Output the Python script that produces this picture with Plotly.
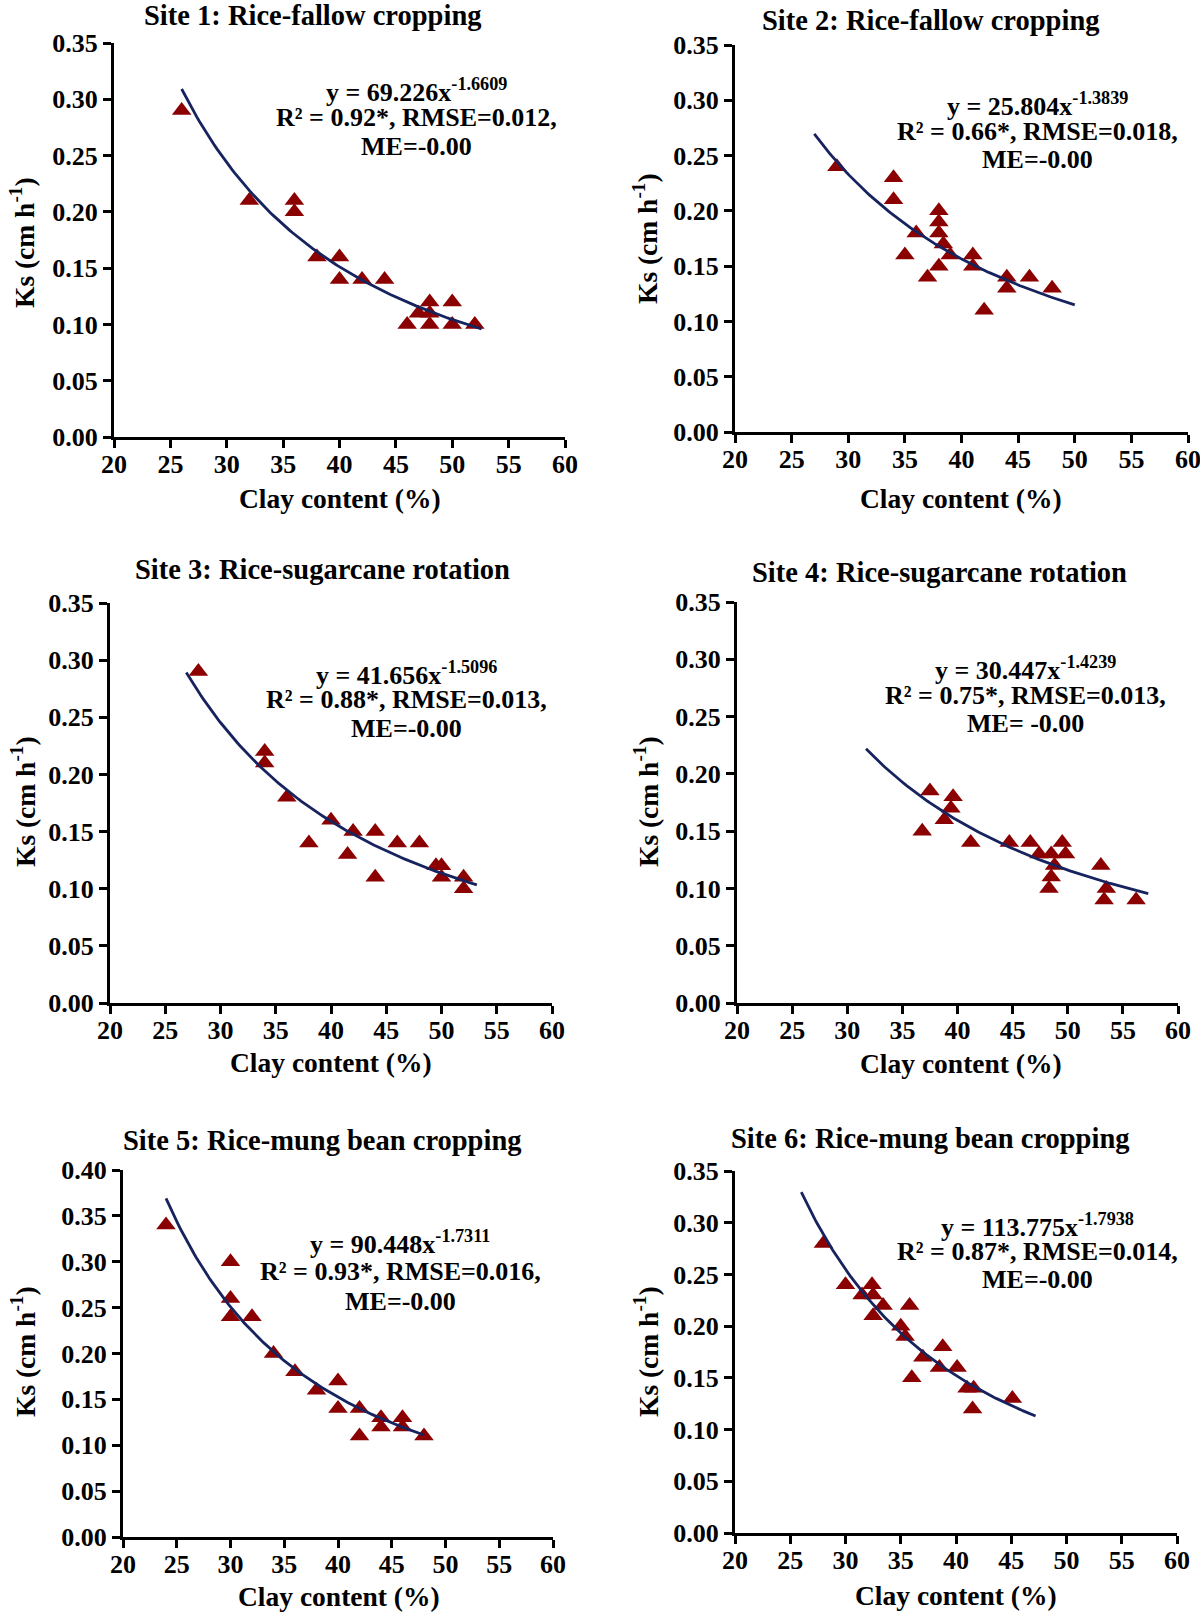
import plotly.graph_objects as go
import numpy as np

# ---------------- data ----------------
site_titles = [
    "Site 1: Rice-fallow cropping",
    "Site 2: Rice-fallow cropping",
    "Site 3: Rice-sugarcane rotation",
    "Site 4: Rice-sugarcane rotation",
    "Site 5: Rice-mung bean cropping",
    "Site 6: Rice-mung bean cropping",
]

site1_clay = [26, 32, 36, 36, 38, 40, 40, 42, 44, 46, 47, 48, 48, 48, 50, 50, 52]
site1_ks = [0.29, 0.21, 0.21, 0.20, 0.16, 0.16, 0.14, 0.14, 0.14, 0.10, 0.11, 0.12, 0.11, 0.10, 0.12, 0.10, 0.10]

site2_clay = [29, 34, 34, 35, 36, 37, 38, 38, 38, 38.4, 38, 39, 41, 41, 42, 44, 44, 46, 48]
site2_ks = [0.24, 0.23, 0.21, 0.16, 0.18, 0.14, 0.20, 0.19, 0.18, 0.17, 0.15, 0.16, 0.16, 0.15, 0.11, 0.14, 0.13, 0.14, 0.13]

site3_clay = [28, 34, 34, 36, 38, 40, 41.5, 42, 44, 44, 46, 48, 49.5, 50, 50, 52, 52]
site3_ks = [0.29, 0.22, 0.21, 0.18, 0.14, 0.16, 0.13, 0.15, 0.15, 0.11, 0.14, 0.14, 0.12, 0.12, 0.11, 0.11, 0.10]

site4_clay = [36.8, 37.5, 38.8, 39.4, 39.6, 41.2, 44.7, 46.6, 47.4, 48.5, 48.8, 48.5, 48.3, 49.5, 49.8, 53.0, 53.5, 53.3, 56.2]
site4_ks = [0.15, 0.185, 0.16, 0.17, 0.18, 0.14, 0.14, 0.14, 0.13, 0.13, 0.12, 0.11, 0.10, 0.14, 0.13, 0.12, 0.10, 0.09, 0.09]

site5_clay = [24, 30, 30, 30, 32, 34, 36, 38, 40, 40, 42, 42, 44, 44, 46, 46, 48]
site5_ks = [0.34, 0.30, 0.26, 0.24, 0.24, 0.20, 0.18, 0.16, 0.17, 0.14, 0.14, 0.11, 0.13, 0.12, 0.13, 0.12, 0.11]

site6_clay = [28, 30, 31.5, 32.4, 32.5, 32.5, 33.4, 35, 35.4, 35.8, 36, 37, 38.8, 38.5, 40.1, 41, 41.6, 41.5, 45.1]
site6_ks = [0.28, 0.24, 0.23, 0.24, 0.23, 0.21, 0.22, 0.20, 0.19, 0.22, 0.15, 0.17, 0.18, 0.16, 0.16, 0.14, 0.14, 0.12, 0.13]

# power-law trend lines shown on the chart: y = a * x^b
trend_a = [69.226, 25.804, 41.656, 30.447, 90.448, 113.775]
trend_b = [-1.6609, -1.3839, -1.5096, -1.4239, -1.7311, -1.7938]
trend_xmin = [26, 27, 26.9, 31.7, 24, 26]
trend_xmax = [52.6, 50, 53.2, 57.3, 48, 47.2]

r2_labels = ["0.92*", "0.66*", "0.88*", "0.75*", "0.93*", "0.87*"]
rmse_labels = ["0.012", "0.018", "0.013", "0.013", "0.016", "0.014"]
me_labels = ["ME=-0.00", "ME=-0.00", "ME=-0.00", "ME= -0.00", "ME=-0.00", "ME=-0.00"]
a_labels = ["69.226", "25.804", "41.656", "30.447", "90.448", "113.775"]
b_labels = ["-1.6609", "-1.3839", "-1.5096", "-1.4239", "-1.7311", "-1.7938"]

y_max = [0.35, 0.35, 0.35, 0.35, 0.40, 0.35]
x_ticks = [20, 25, 30, 35, 40, 45, 50, 55, 60]

clay_sets = [site1_clay, site2_clay, site3_clay, site4_clay, site5_clay, site6_clay]
ks_sets = [site1_ks, site2_ks, site3_ks, site4_ks, site5_ks, site6_ks]

# ---------------- layout geometry (page pixels) ----------------
W, H = 1200, 1613
boxes = [(114, 565, 43, 437), (735, 1188, 45, 432), (110, 552, 603, 1003),
         (737, 1178, 602, 1003), (123, 553, 1170, 1537), (735, 1177, 1171, 1533)]
title_pos = [(312, 16), (930, 21), (322, 570), (939, 573), (322, 1140), (930, 1138)]
eq_x = [416, 1037, 406, 1025, 400, 1037]
eq_lines_y = [(89, 118, 147), (103, 132, 160), (671, 699, 728),
              (666, 695, 723), (1240, 1271, 1301), (1223, 1251, 1279)]
xt_pos = [(340, 499), (961, 499), (331, 1062), (961, 1063), (339, 1596), (956, 1595)]
yt_pos = [(23, 243), (646, 239), (23, 802), (646, 802), (23, 1352), (646, 1352)]

FONT = "Liberation Serif"
MARKER_COLOR = "#8B0000"
LINE_COLOR = "#16235E"


def px_x(v):
    return v / W


def px_y(v):
    return 1 - v / H


def bfont(size):
    return dict(family=FONT, size=size, color="black", weight="bold")


fig = go.Figure()
annotations = []
layout_axes = {}


def add_text(text, x, y, size, **kw):
    annotations.append(dict(
        text=text, x=px_x(x), y=px_y(y), xref="paper", yref="paper",
        xanchor="center", yanchor="middle", showarrow=False, font=bfont(size), **kw))


for i in range(6):
    n = i + 1
    xa = "x" if n == 1 else f"x{n}"
    ya = "y" if n == 1 else f"y{n}"
    xkey = "xaxis" if n == 1 else f"xaxis{n}"
    ykey = "yaxis" if n == 1 else f"yaxis{n}"
    x0, x1, y0, y1 = boxes[i]

    fig.add_trace(go.Scatter(
        x=clay_sets[i], y=ks_sets[i], mode="markers", xaxis=xa, yaxis=ya,
        marker=dict(symbol="triangle-up", size=17, color=MARKER_COLOR, line=dict(width=0)),
        showlegend=False, hoverinfo="x+y"))

    xt = np.linspace(trend_xmin[i], trend_xmax[i], 120)
    yt = trend_a[i] * xt ** trend_b[i]
    fig.add_trace(go.Scatter(
        x=xt, y=yt, mode="lines", xaxis=xa, yaxis=ya,
        line=dict(color=LINE_COLOR, width=2.8), showlegend=False, hoverinfo="skip"))

    common = dict(
        ticks="outside", ticklen=8, tickwidth=2.5, tickcolor="black",
        showline=True, linewidth=3, linecolor="black", showgrid=False, zeroline=False,
        tickfont=bfont(26), fixedrange=True, automargin=False, ticklabeloverflow="allow")
    layout_axes[xkey] = dict(
        domain=[px_x(x0), px_x(x1)], anchor=ya, range=[20, 60],
        tickvals=x_ticks, ticktext=[str(t) for t in x_ticks],
        ticklabelstandoff=-6, **common)
    ytv = [round(k * 0.05, 2) for k in range(int(round(y_max[i] / 0.05)) + 1)]
    layout_axes[ykey] = dict(
        domain=[px_y(y1), px_y(y0)], anchor=xa, range=[0, y_max[i]],
        tickvals=ytv, ticktext=[f"{v:.2f}" for v in ytv], **common)

    tx, ty = title_pos[i]
    add_text(site_titles[i], tx, ty, 28.5)

    l1, l2, l3 = eq_lines_y[i]
    add_text(f"y = {a_labels[i]}x<sup>{b_labels[i]}</sup>", eq_x[i], l1 + 2, 26)
    add_text(f"R² = {r2_labels[i]}, RMSE={rmse_labels[i]},", eq_x[i], l2, 26)
    add_text(me_labels[i], eq_x[i], l3, 26)

    xx, xy = xt_pos[i]
    add_text("Clay content (%)", xx, xy, 27.5)

    yx, yy = yt_pos[i]
    add_text("Ks (cm h<sup>-1</sup>)", yx, yy, 27.5, textangle=-90)

fig.update_layout(
    width=W, height=H, margin=dict(l=0, r=0, t=0, b=0, autoexpand=False),
    paper_bgcolor="white", plot_bgcolor="white", template="none",
    annotations=annotations, **layout_axes)

# remove the default page margin so the figure fills the window exactly
fig.write_html("out.html", config={"displayModeBar": False},
               post_script="document.body.style.margin='0px';")
